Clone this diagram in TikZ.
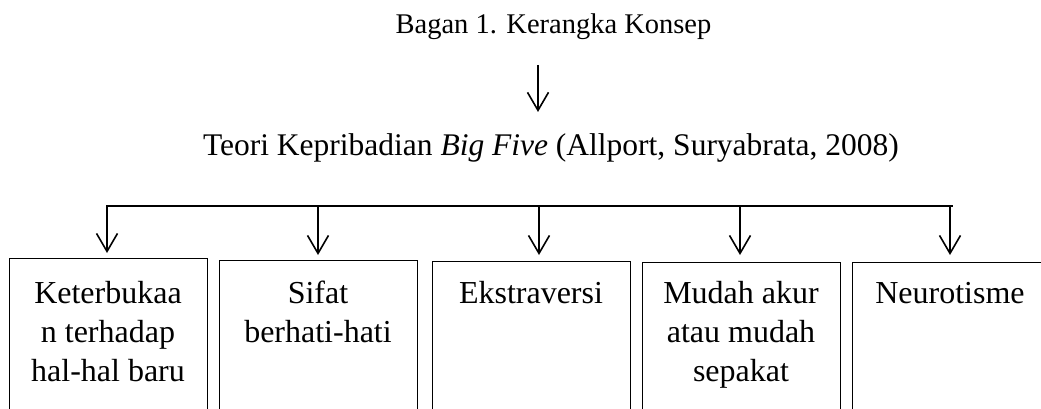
\documentclass[tikz,border=0pt]{standalone}
\usepackage{fontspec}
\setmainfont{Liberation Serif}
\usetikzlibrary{arrows.meta}
\begin{document}
\begin{tikzpicture}[x=1pt,y=-1pt,
  arr/.style={line width=1.6pt,-{Straight Barb[length=18pt,width=21pt,line width=1.6pt]}},
  barline/.style={line width=2.2pt},
  box/.style={draw,line width=1.2pt,minimum width=198pt,minimum height=200pt,anchor=north west,inner sep=0pt},
  lbl/.style={font=\fontsize{32}{39}\selectfont,align=center,anchor=north,inner sep=0pt},
  ttl/.style={font=\fontsize{28.5}{34}\selectfont,anchor=base,inner sep=0pt},
  mainlbl/.style={font=\fontsize{31.5}{38}\selectfont,anchor=base,inner sep=0pt}]
\useasboundingbox (0,0) rectangle (1041,409);
\clip (0,0) rectangle (1041,409);
\fill[white] (0,0) rectangle (1041,409);

\node[ttl] (title) at (553.5,33.5) {Bagan 1. Kerangka Konsep};
\node[mainlbl] (theory) at (551,156) {Teori Kepribadian \textit{Big Five} (Allport, Suryabrata, 2008)};
\coordinate (ax) at (538,0);
\draw[arr,shorten <=25pt,shorten >=22pt] (title.south -| ax) -- (theory.north -| ax);

\node[box] (b1) at (9,258) {};
\node[box] (b2) at (219,260) {};
\node[box] (b3) at (432,261) {};
\node[box] (b4) at (642,262) {};
\node[box,minimum width=196pt] (b5) at (852,262) {};

\node[lbl] (t1) at (108,276.2) {\strut Keterbukaa\\n terhadap\\hal-hal baru};
\node[lbl] (t2) at (318,276.2) {\strut Sifat\\berhati-hati};
\node[lbl] (t3) at (531,276.2) {\strut Ekstraversi};
\node[lbl] (t4) at (741,276.2) {\strut Mudah akur\\atau mudah\\sepakat};
\node[lbl] (t5) at (950,276.2) {\strut Neurotisme};

\coordinate (bl) at (107,206);
\coordinate (br) at (953,206);
\draw[barline] (bl) -- (br);
\coordinate (a1) at (107,205);
\coordinate (a2) at (318,207);
\coordinate (a3) at (539,207);
\coordinate (a4) at (740,207);
\coordinate (a5) at (950,207);
\draw[arr,shorten >=5pt] (a1) -- (a1 |- b1.north);
\draw[arr,shorten >=5pt] (a2) -- (a2 |- b2.north);
\draw[arr,shorten >=6pt] (a3) -- (a3 |- b3.north);
\draw[arr,shorten >=7pt] (a4) -- (a4 |- b4.north);
\draw[arr,shorten >=7pt] (a5) -- (a5 |- b5.north);
\end{tikzpicture}
\end{document}
